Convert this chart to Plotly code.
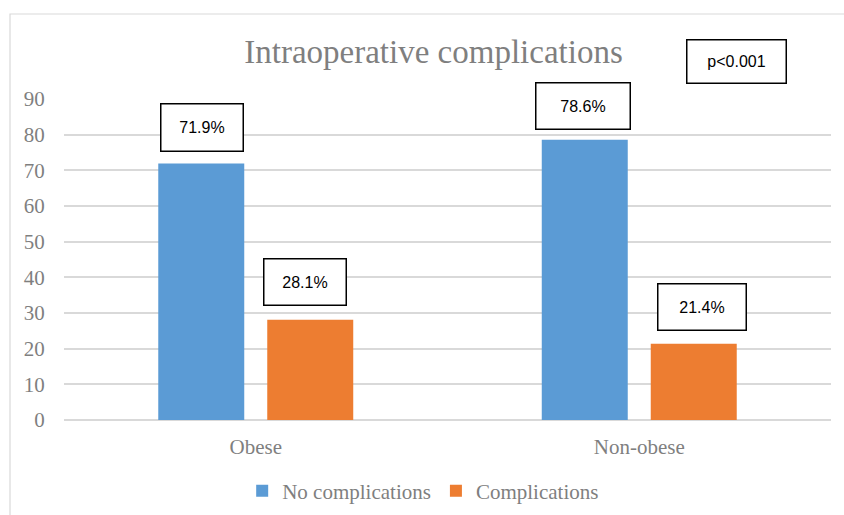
import plotly.graph_objects as go

categories = ["Obese", "Non-obese"]
no_complications = [71.9, 78.6]
complications = [28.1, 21.4]
series_names = ["No complications", "Complications"]
label_no = ["71.9%", "78.6%"]
label_comp = ["28.1%", "21.4%"]
y_ticks = [0, 10, 20, 30, 40, 50, 60, 70, 80, 90]
p_text = "p<0.001"
title_text = "Intraoperative complications"

BLUE = "#5B9BD5"
ORANGE = "#ED7D31"
GREY = "#7f7f7f"
GRID = "#d9d9d9"
SERIF = "Liberation Serif, Times New Roman, serif"
SANS = "Liberation Sans, Arial, sans-serif"

fig = go.Figure()
fig.add_trace(go.Bar(x=categories, y=no_complications, name=series_names[0],
                     marker=dict(color=BLUE, line=dict(width=0))))
fig.add_trace(go.Bar(x=categories, y=complications, name=series_names[1],
                     marker=dict(color=ORANGE, line=dict(width=0))))

# label boxes: (x shift, y shift, outer width, outer height)
box_no = [(-54, 11.5, 84, 49), (-56, 10, 96, 48)]
box_comp = [(49, 14, 84, 48), (63, 13, 90, 48)]
BW = 1.5
for cat, val, txt, b in list(zip(categories, no_complications, label_no, box_no)) + \
        list(zip(categories, complications, label_comp, box_comp)):
    fig.add_annotation(x=cat, y=val, xref="x", yref="y", text=txt, showarrow=False,
                       xanchor="center", yanchor="bottom", xshift=b[0], yshift=b[1],
                       width=b[2] - 2 * BW, height=b[3] - 2 * BW, borderpad=0,
                       bordercolor="#000000", borderwidth=BW, bgcolor="white",
                       font=dict(family=SANS, size=16, color="#000000"))

fig.add_annotation(x=0.8768, y=1.1168, xref="paper", yref="paper", text=p_text,
                   showarrow=False, xanchor="center", yanchor="middle",
                   width=101 - 2 * BW, height=45 - 2 * BW, borderpad=0,
                   bordercolor="#000000", borderwidth=BW, bgcolor="white",
                   font=dict(family=SANS, size=16, color="#000000"))

# outer chart border (light grey frame)
fig.add_shape(type="rect", xref="paper", yref="paper",
              x0=-0.0704, y0=-0.6, x1=1.2, y1=1.2648,
              line=dict(color=GRID, width=1.2), fillcolor="rgba(0,0,0,0)", layer="below")

fig.update_layout(
    width=844, height=515,
    margin=dict(l=64, r=13, t=99, b=95, autoexpand=False),
    paper_bgcolor="white", plot_bgcolor="white",
    barmode="group", bargap=0.4316, bargroupgap=0.211,
    title=dict(text=title_text, x=433.5 / 844, xref="container", xanchor="center",
               y=1 - 51 / 515, yref="container", yanchor="middle",
               font=dict(family=SERIF, size=33, color=GREY)),
    legend=dict(orientation="h", x=0.4683, xanchor="center", y=1 - 491 / 515,
                yref="container", yanchor="middle",
                font=dict(family=SERIF, size=21, color=GREY), itemwidth=30,
                traceorder="normal"),
    showlegend=True,
    xaxis=dict(showgrid=False, showline=False, ticks="outside", ticklen=8,
               tickcolor="rgba(0,0,0,0)", automargin=False,
               tickfont=dict(family=SERIF, size=21, color=GREY)),
    yaxis=dict(range=[0, 90], tickvals=y_ticks, showgrid=True, gridcolor=GRID, gridwidth=1.5,
               zeroline=True, zerolinecolor=GRID, zerolinewidth=1.5, showline=False,
               ticks="outside", ticklen=14, tickcolor="rgba(0,0,0,0)", automargin=False,
               tickfont=dict(family=SERIF, size=21, color=GREY)),
)

fig.write_html("out.html")
